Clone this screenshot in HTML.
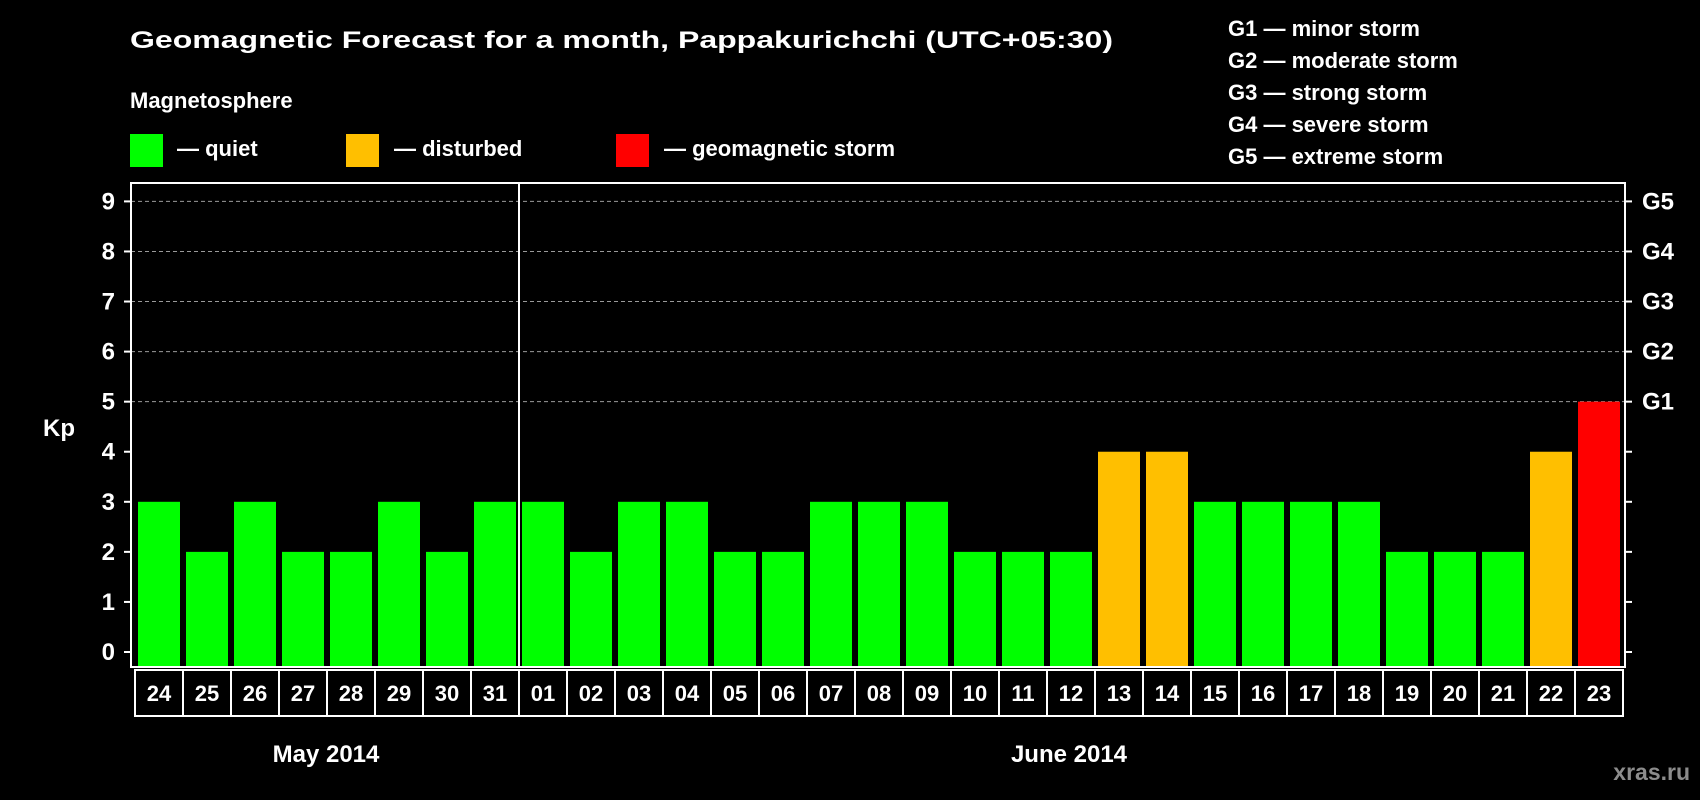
<!DOCTYPE html>
<html><head><meta charset="utf-8"><style>
html,body{margin:0;padding:0;background:#000;width:1700px;height:800px;overflow:hidden}
svg text{font-family:"Liberation Sans",Arial,sans-serif;font-weight:bold;fill:#fff}
</style></head><body>
<svg id="chart" width="1700" height="800" viewBox="0 0 1700 800">
<rect width="1700" height="800" fill="#000"/>
<text x="130" y="48" font-size="24" textLength="983" lengthAdjust="spacingAndGlyphs">Geomagnetic Forecast for a month, Pappakurichchi (UTC+05:30)</text>
<text x="130" y="108" font-size="22">Magnetosphere</text>
<rect x="130" y="134" width="33" height="33" fill="#00ff00"/>
<text x="177" y="156" font-size="22">— quiet</text>
<rect x="346" y="134" width="33" height="33" fill="#ffbf00"/>
<text x="394" y="156" font-size="22">— disturbed</text>
<rect x="616" y="134" width="33" height="33" fill="#ff0000"/>
<text x="664" y="156" font-size="22">— geomagnetic storm</text>
<g font-size="22">
<text x="1228" y="36">G1 — minor storm</text>
<text x="1228" y="68">G2 — moderate storm</text>
<text x="1228" y="100">G3 — strong storm</text>
<text x="1228" y="132">G4 — severe storm</text>
<text x="1228" y="164">G5 — extreme storm</text>
</g>
<text x="43" y="436" font-size="24">Kp</text>
<g id="plot"></g>
<text x="326" y="762" font-size="24" text-anchor="middle">May 2014</text>
<text x="1069" y="762" font-size="24" text-anchor="middle">June 2014</text>
<text x="1690" y="780" font-size="23" text-anchor="end" style="fill:#8c8c8c">xras.ru</text>
</svg>
<script>
const days = ["24","25","26","27","28","29","30","31","01","02","03","04","05","06","07","08","09","10","11","12","13","14","15","16","17","18","19","20","21","22","23"];
const kpValues = [3,2,3,2,2,3,2,3,3,2,3,3,2,2,3,3,3,2,2,2,4,4,3,3,3,3,2,2,2,4,5];
const yTicks = [0,1,2,3,4,5,6,7,8,9];
const gLabels = ["G1","G2","G3","G4","G5"];
const monthBreakIndex = 8;

const NS = "http://www.w3.org/2000/svg";
const g = document.getElementById("plot");
const L = 131, R = 1625, T = 183, B = 667, slotX0 = 135, slotW = 48;
const yScale = v => 652 - v * (652 - 201.4) / 9;
const xScale = i => slotX0 + i * slotW;
function mk(tag, attrs){const e=document.createElementNS(NS,tag);for(const k in attrs)e.setAttribute(k,attrs[k]);g.appendChild(e);return e;}

yTicks.forEach(v=>{
  const y=yScale(v);
  if(v>=5){
    const gl=mk("line",{x1:L,x2:R,y1:y,y2:y,stroke:"#9a9a9a","stroke-width":1,"stroke-dasharray":"4,3"});
    
    
  }
  const t1=mk("line",{x1:L-7,x2:L,y1:y,y2:y,stroke:"#fff","stroke-width":2});
  
  
  const t2=mk("line",{x1:R,x2:R+7,y1:y,y2:y,stroke:"#fff","stroke-width":2});
  
  
  const tl=mk("text",{x:115,y:y+8,"font-size":24,"text-anchor":"end"});
  tl.textContent=v;
  
  
});
gLabels.forEach((lab,i)=>{
  const y=yScale(5+i);
  const t=mk("text",{x:1642,y:y+8,"font-size":24});
  t.textContent=lab;
  
  
});
kpValues.forEach((v,i)=>{
  const col = v>=5 ? "#ff0000" : (v>=4 ? "#ffbf00" : "#00ff00");
  const b=mk("rect",{x:xScale(i)+3,y:yScale(v),width:42,height:B-yScale(v),fill:col});
  
  
});
const frame=mk("rect",{x:L,y:T,width:R-L,height:B-T,fill:"none",stroke:"#fff","stroke-width":2});


const mx=xScale(monthBreakIndex);
const ml=mk("line",{x1:mx,x2:mx,y1:T,y2:B,stroke:"#fff","stroke-width":2});


days.forEach((d,i)=>{
  const c=mk("rect",{x:xScale(i),y:670,width:slotW,height:46,fill:"none",stroke:"#fff","stroke-width":2});
  
  
  const t=mk("text",{x:xScale(i)+slotW/2,y:701,"font-size":22,"text-anchor":"middle"});
  t.textContent=d;
  
  
});
</script>
</body></html>
